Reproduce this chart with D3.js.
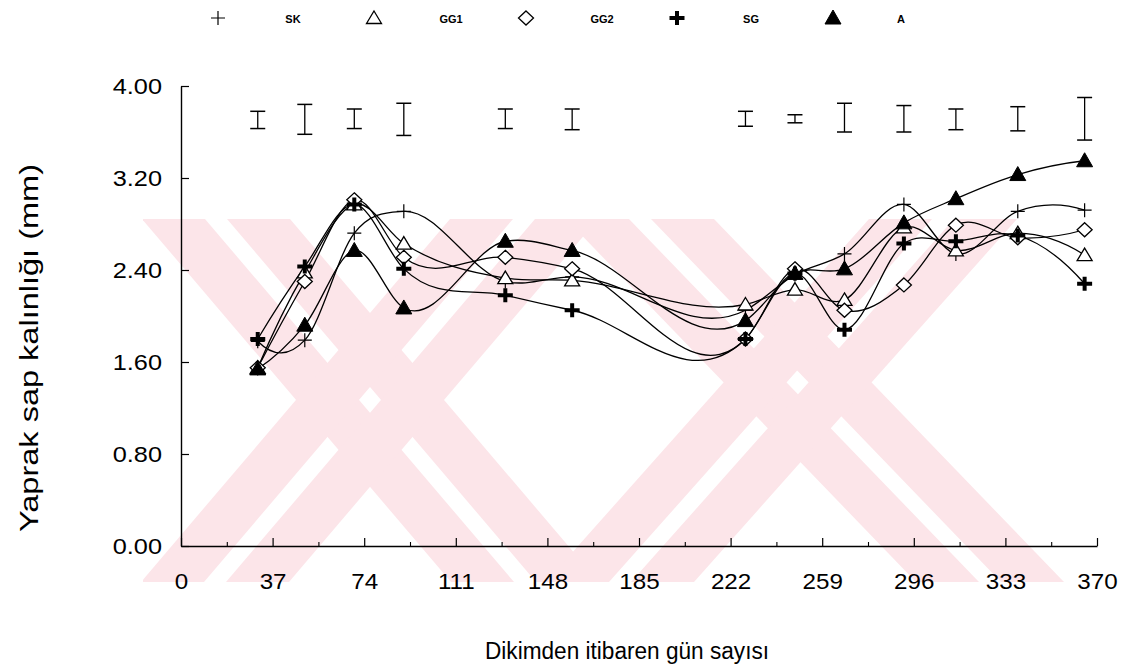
<!DOCTYPE html>
<html>
<head>
<meta charset="utf-8">
<script src="https://cdn.jsdelivr.net/npm/d3@7"></script>
<style>
  body { margin: 0; background: #ffffff; }
  svg { display: block; }
</style>
</head>
<body>
<svg id="chart" width="1124" height="668"></svg>
<script>
// Sampling days after planting
const days = [31, 50, 70, 90, 131, 158, 228, 248, 268, 292, 313, 338, 365];

// Leaf petiole thickness (mm) per treatment
const seriesKeys = ["SK", "GG1", "GG2", "SG", "A"];
const valuesSK  = [1.78, 1.79, 2.72, 2.91, 2.30, 2.34, 2.05, 2.36, 2.54, 2.97, 2.54, 2.91, 2.92];
const valuesGG1 = [1.55, 2.38, 2.97, 2.63, 2.33, 2.31, 2.10, 2.23, 2.14, 2.77, 2.57, 2.72, 2.53];
const valuesGG2 = [1.55, 2.30, 3.01, 2.51, 2.51, 2.41, 1.80, 2.41, 2.05, 2.27, 2.79, 2.68, 2.75];
const valuesSG  = [1.80, 2.43, 2.97, 2.41, 2.18, 2.05, 1.80, 2.37, 1.88, 2.63, 2.65, 2.70, 2.28];
const valuesA   = [1.54, 1.92, 2.57, 2.07, 2.65, 2.57, 1.96, 2.37, 2.41, 2.81, 3.02, 3.23, 3.35];

// LSD bars drawn above the curves (upper and lower ends, mm)
const lsdTop    = [3.78, 3.84, 3.80, 3.85, 3.80, 3.80, 3.78, 3.75, 3.85, 3.83, 3.80, 3.82, 3.90];
const lsdBottom = [3.63, 3.58, 3.63, 3.57, 3.63, 3.62, 3.65, 3.68, 3.60, 3.60, 3.62, 3.61, 3.53];

// Axis ticks
const xTickValues = [0, 37, 74, 111, 148, 185, 222, 259, 296, 333, 370];
const xMinorTicks = [18.5, 55.5, 92.5, 129.5, 166.5, 203.5, 240.5, 277.5, 314.5, 351.5];
const yTickValues = [0, 0.8, 1.6, 2.4, 3.2, 4.0];

const seriesValues = { SK: valuesSK, GG1: valuesGG1, GG2: valuesGG2, SG: valuesSG, A: valuesA };

const svg = d3.select("#chart");
const FONT = "'Liberation Sans', Arial, Helvetica, sans-serif";

const x = d3.scaleLinear().domain([0, 370]).range([181, 1097]);
const y = d3.scaleLinear().domain([0, 4]).range([546, 86]);

// ---- background watermark: two striped crosses in light pink ----
const defs = svg.append("defs");
defs.append("clipPath").attr("id", "wmclip")
  .append("rect").attr("x", 143).attr("y", 219).attr("width", 925).attr("height", 363);
const wmG = svg.append("g").attr("clip-path", "url(#wmclip)");
const Y0 = 219, Y1 = 582;
// each arm: centre line x at top (Y0) and at bottom (Y1)
const arms = [
  [216, 525], [524, 215],   // left cross
  [640, 990], [943, 620]    // right cross
];
const HALF = 74, GAP = 11;
function stripe(a, b) {
  return [[a[0], Y0], [a[1], Y0], [b[1], Y1], [b[0], Y1]];
}
const wmPolys = [];
arms.forEach(([t, bt]) => {
  // two parallel pink stripes with a thin white gap between them
  wmPolys.push(stripe([t - HALF, t - GAP], [bt - HALF, bt - GAP]));
  wmPolys.push(stripe([t + GAP, t + HALF], [bt + GAP, bt + HALF]));
});
wmG.selectAll("polygon").data(wmPolys).join("polygon")
  .attr("points", d => d.map(p => p.join(",")).join(" "))
  .attr("fill", "#fce5e9");

// ---- axes ----
const axisG = svg.append("g").attr("class", "axes");

const xAxis = d3.axisBottom(x).tickValues(xTickValues).tickFormat(d3.format("d"))
  .tickSizeInner(-8).tickSizeOuter(0).tickPadding(27);
const gx = axisG.append("g").attr("transform", `translate(0,${y(0)})`).call(xAxis);
gx.select(".domain").attr("stroke", "#000").attr("stroke-width", 1.4);
gx.selectAll(".tick line").attr("stroke", "#000").attr("stroke-width", 1.2);
gx.selectAll(".tick text").attr("font-family", FONT).attr("font-size", 22).attr("fill", "#000");

const xMinor = d3.axisBottom(x).tickValues(xMinorTicks).tickFormat("")
  .tickSizeInner(-4).tickSizeOuter(0);
const gxm = axisG.append("g").attr("transform", `translate(0,${y(0)})`).call(xMinor);
gxm.select(".domain").remove();
gxm.selectAll(".tick line").attr("stroke", "#000").attr("stroke-width", 1.1);

const yAxis = d3.axisLeft(y).tickValues(yTickValues).tickFormat(d3.format(".2f"))
  .tickSizeInner(-8).tickSizeOuter(0).tickPadding(19);
const gy = axisG.append("g").attr("transform", `translate(${x(0)},0)`).call(yAxis);
gy.select(".domain").attr("stroke", "#000").attr("stroke-width", 1.4);
gy.selectAll(".tick line").attr("stroke", "#000").attr("stroke-width", 1.2);
gy.selectAll(".tick text").attr("font-family", FONT).attr("font-size", 22).attr("fill", "#000");

// widen tick labels slightly, as printed
gx.selectAll(".tick text").each(function () {
  const w = this.getComputedTextLength();
  d3.select(this).attr("textLength", w * 1.1).attr("lengthAdjust", "spacingAndGlyphs");
});
gy.selectAll(".tick text").each(function () {
  const w = this.getComputedTextLength();
  d3.select(this).attr("textLength", w * 1.15).attr("lengthAdjust", "spacingAndGlyphs");
});

// ---- axis titles ----
svg.append("text")
  .attr("x", 627).attr("y", 659)
  .attr("text-anchor", "middle")
  .attr("font-family", FONT).attr("font-size", 23)
  .attr("textLength", 284).attr("lengthAdjust", "spacingAndGlyphs")
  .text("Dikimden itibaren gün sayısı");

svg.append("text")
  .attr("transform", "translate(38,348) rotate(-90)")
  .attr("text-anchor", "middle")
  .attr("font-family", FONT).attr("font-size", 25)
  .attr("textLength", 368).attr("lengthAdjust", "spacingAndGlyphs")
  .text("Yaprak sap kalınlığı (mm)");

// ---- LSD bars ----
const errG = svg.append("g").attr("class", "lsd");
const errData = days.map((d, i) => ({ day: d, top: lsdTop[i], bottom: lsdBottom[i] }));
errG.selectAll("line.v").data(errData).join("line").attr("class", "v")
  .attr("x1", d => x(d.day)).attr("x2", d => x(d.day))
  .attr("y1", d => y(d.top)).attr("y2", d => y(d.bottom))
  .attr("stroke", "#000").attr("stroke-width", 1.3);
errG.selectAll("line.t").data(errData).join("line").attr("class", "t")
  .attr("x1", d => x(d.day) - 7.5).attr("x2", d => x(d.day) + 7.5)
  .attr("y1", d => y(d.top)).attr("y2", d => y(d.top))
  .attr("stroke", "#000").attr("stroke-width", 1.5);
errG.selectAll("line.b").data(errData).join("line").attr("class", "b")
  .attr("x1", d => x(d.day) - 7.5).attr("x2", d => x(d.day) + 7.5)
  .attr("y1", d => y(d.bottom)).attr("y2", d => y(d.bottom))
  .attr("stroke", "#000").attr("stroke-width", 1.5);

// ---- marker shapes ----
const markerStyle = {
  SK:  { path: "M-7,0H7M0,-7V7", fill: "none", stroke: "#000", sw: 1.2 },
  GG1: { path: "M0,-7L7.5,5.5L-7.5,5.5Z", fill: "#fff", stroke: "#000", sw: 1.3 },
  GG2: { path: "M0,-7L7.5,0L0,7L-7.5,0Z", fill: "#fff", stroke: "#000", sw: 1.3 },
  SG:  { path: "M-7.5,0H7.5M0,-7V7", fill: "none", stroke: "#000", sw: 4 },
  A:   { path: "M0,-8L8,6L-8,6Z", fill: "#000", stroke: "#000", sw: 1 }
};

// ---- curves: cubic Hermite in x, slopes from the three-point (quadratic) rule ----
function smoothPath(pts) {
  const n = pts.length;
  const xs = pts.map(p => p[0]), ys = pts.map(p => p[1]);
  const sec = (i, j) => (ys[j] - ys[i]) / (xs[j] - xs[i]);
  const m = new Array(n);
  for (let i = 1; i < n - 1; i++) {
    m[i] = sec(i - 1, i) - sec(i - 1, i + 1) + sec(i, i + 1);
  }
  m[0] = n > 2 ? 2 * sec(0, 1) - m[1] : sec(0, 1);
  m[n - 1] = n > 2 ? 2 * sec(n - 2, n - 1) - m[n - 2] : sec(0, 1);
  const p = d3.path();
  p.moveTo(xs[0], ys[0]);
  for (let i = 0; i < n - 1; i++) {
    const h = xs[i + 1] - xs[i];
    p.bezierCurveTo(xs[i] + h / 3, ys[i] + m[i] * h / 3,
                    xs[i + 1] - h / 3, ys[i + 1] - m[i + 1] * h / 3,
                    xs[i + 1], ys[i + 1]);
  }
  return p.toString();
}

const lineG = svg.append("g").attr("class", "curves");
seriesKeys.forEach(k => {
  const pts = days.map((d, i) => [x(d), y(seriesValues[k][i])]);
  lineG.append("path")
    .attr("d", smoothPath(pts))
    .attr("fill", "none").attr("stroke", "#000").attr("stroke-width", 1.3);
});

const markG = svg.append("g").attr("class", "markers");
seriesKeys.forEach(k => {
  const st = markerStyle[k];
  const pts = days.map((d, i) => ({ day: d, v: seriesValues[k][i] }));
  markG.append("g").selectAll("path").data(pts).join("path")
    .attr("transform", d => `translate(${x(d.day)},${y(d.v)})`)
    .attr("d", st.path)
    .attr("fill", st.fill).attr("stroke", st.stroke).attr("stroke-width", st.sw);
});

// ---- legend ----
const legendItems = [
  { key: "SK",  sx: 218, tx: 293 },
  { key: "GG1", sx: 374, tx: 451 },
  { key: "GG2", sx: 526, tx: 602 },
  { key: "SG",  sx: 677, tx: 751 },
  { key: "A",   sx: 833, tx: 901 }
];
const legG = svg.append("g").attr("class", "legend");
legendItems.forEach(it => {
  const st = markerStyle[it.key];
  legG.append("path")
    .attr("transform", `translate(${it.sx},18)`)
    .attr("d", st.path)
    .attr("fill", st.fill).attr("stroke", st.stroke).attr("stroke-width", st.sw);
  legG.append("text")
    .attr("x", it.tx).attr("y", 23)
    .attr("text-anchor", "middle")
    .attr("font-family", FONT).attr("font-weight", "bold").attr("font-size", 11)
    .text(it.key);
});
</script>
</body>
</html>
